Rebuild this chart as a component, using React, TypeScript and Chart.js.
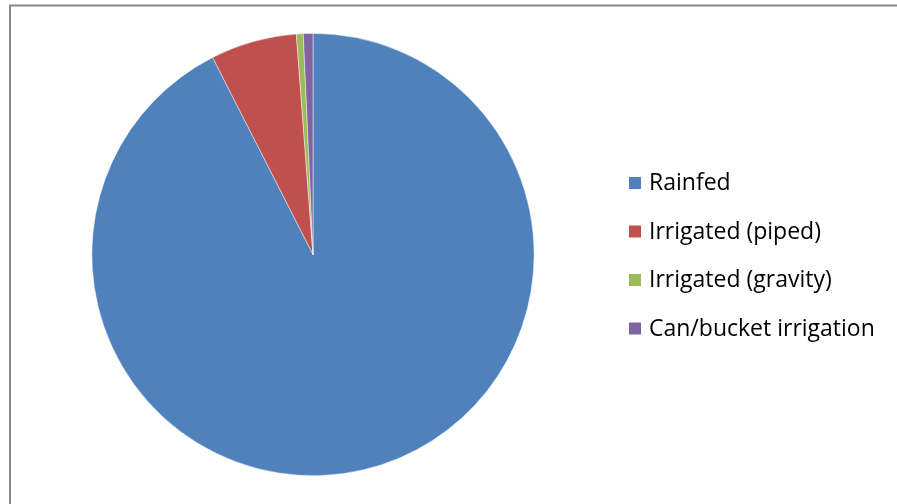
import React, { useEffect, useRef } from "react";
import { Chart, registerables } from "chart.js";

Chart.register(...registerables);

const categories = ["Rainfed", "Irrigated (piped)", "Irrigated (gravity)", "Can/bucket irrigation"];
const shares = [92.5, 6.3, 0.5, 0.7];
const colors = ["#4F81BD", "#C0504D", "#9BBB59", "#8064A2"];

const W = 897;
const H = 504;

const framePlugin = {
  id: "frame",
  beforeDraw(chart: any) {
    const ctx = chart.ctx;
    ctx.save();
    ctx.fillStyle = "#ffffff";
    ctx.fillRect(0, 0, chart.width, chart.height);
    ctx.strokeStyle = "#878787";
    ctx.lineWidth = 2;
    ctx.beginPath();
    ctx.moveTo(10, chart.height);
    ctx.lineTo(10, 5.5);
    ctx.lineTo(chart.width, 5.5);
    ctx.stroke();
    ctx.restore();
  },
};

const legendPlugin = {
  id: "customLegend",
  afterDraw(chart: any) {
    const ctx = chart.ctx;
    const labels = chart.data.labels as string[];
    const bg = chart.data.datasets[0].backgroundColor as string[];
    ctx.save();
    ctx.font = "23px 'Open Sans'";
    ctx.textBaseline = "middle";
    ctx.textAlign = "left";
    const x0 = 629;
    const y0 = 183;
    const step = 48.5;
    labels.forEach((lab, i) => {
      const cy = y0 + i * step;
      ctx.fillStyle = bg[i];
      ctx.fillRect(x0, cy - 6, 12, 12);
      ctx.fillStyle = "#000000";
      ctx.fillText(lab, 649, cy + 0.5);
    });
    ctx.restore();
  },
};

export default function App() {
  const ref = useRef<HTMLCanvasElement | null>(null);
  useEffect(() => {
    if (!ref.current) return;
    const chart = new Chart(ref.current, {
      type: "pie",
      data: {
        labels: categories,
        datasets: [
          {
            data: shares,
            backgroundColor: colors,
            borderColor: "rgba(255,255,255,0.6)",
            borderWidth: 0.75,
          },
        ],
      },
      options: {
        animation: false,
        responsive: false,
        maintainAspectRatio: false,
        layout: { padding: { left: 91, right: 362, top: 33, bottom: 28 } },
        plugins: {
          legend: { display: false },
          tooltip: { enabled: false },
        },
      },
      plugins: [framePlugin, legendPlugin],
    });
    return () => chart.destroy();
  }, []);
  return (
    <div style={{ position: "absolute", left: 0, top: 0, width: W, height: H, overflow: "hidden" }}>
      <canvas ref={ref} width={W} height={H} style={{ display: "block", width: W, height: H }} />
    </div>
  );
}
